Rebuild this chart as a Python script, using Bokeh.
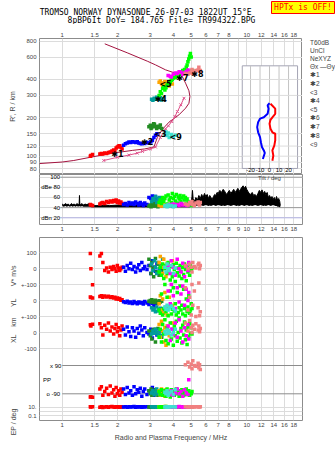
import math
from bokeh.plotting import figure
from bokeh.layouts import column, row
from bokeh.models import Range1d, LinearScale, LogScale, FixedTicker, Label, Legend, LegendItem, LinearAxis
from bokeh.core.properties import value
from bokeh.embed import file_html
from bokeh.resources import INLINE

# ---------------- data ----------------
title_1 = "TROMSO NORWAY   DYNASONDE 26-07-03 1822UT 15\u00b0E"
title_2 = "8pBP6It DoY= 184.765 File= TR994322.BPG"
status_text = "HPTx is OFF!"

freq_ticks_top = [1, 1.5, 2, 3, 4, 5, 6, 7, 8, 10, 12, 14, 16, 18]
freq_ticks_mid = [1, 1.5, 2, 3, 4, 5, 6, 7, 8, 9, 10, 12, 14, 16, 18]
height_ticks = [80, 90, 100, 120, 150, 200, 300, 400, 600, 800]
db_ticks = [20, 40, 60, 80, 100]
db_labels = ["dBn 20", "40", "60", "dBe 80", "100"]
db_grid_colors = ["#b4b4e6", "#9a9a9a", "#dcdcdc", "#dcdcdc", "#9a9a9a"]
tilt_ticks = [-20, -10, 0, 10, 20]
tilt_labels = ["-20", "-10", "0", "10", "20"]

# true-height profile (plasma frequency MHz, height km)
prof_f = [0.753, 1.0, 1.155, 1.42, 1.7, 2.0, 2.4, 2.8, 3.05, 3.14, 3.28, 3.5, 3.79, 4.29, 4.66, 4.86,
          4.92, 4.86, 4.66, 4.47, 4.11, 3.63, 3.2, 2.89, 2.25, 1.70]
prof_h = [87.5, 90, 92.5, 98, 103, 107, 111, 114, 117, 118, 141, 163, 185, 211, 238, 260,
          294, 326, 374, 423, 448, 476, 521, 557, 648, 762]
# NeXYZ trace
nexyz_f = [1.68, 1.99, 2.3, 2.55, 2.72, 3.01, 3.2, 3.4, 3.63, 3.76, 3.92, 4.08, 4.21, 4.39, 4.57]
nexyz_h = [92.5, 98, 102, 105.6, 109, 114, 118, 140, 164, 173, 187, 205, 224, 253, 285]
# tilt inset
thx_tilt = [1, 6, 6, 3, 1, 0, 1, 3, 6, 6, 5, 3, 4, 3]
thx_h = [258, 236, 215, 202, 193, 180, 164, 154, 150, 133, 121, 111, 101, 92]
thy_tilt = [0, -2, -1, -2, -6, -10, -12, -13, -12, -10, -9, -8, -6, -5, -7]
thy_h = [261, 250, 236, 215, 202, 197, 185, 169, 154, 141, 128, 118, 111, 106, 95]

# noise amplitude (dB)
noise_f = [1.00, 1.02, 1.04, 1.06, 1.08, 1.10, 1.12, 1.14, 1.16, 1.18,
           1.20, 1.22, 1.235, 1.24, 1.245, 1.26, 1.28, 1.30, 1.33, 1.36,
           1.40, 1.45, 1.50, 1.60, 1.70, 1.80, 2.00, 2.20, 2.50, 2.80,
           3.00, 3.50, 4.00, 4.50, 4.90, 5.00, 5.05, 5.08, 5.12, 5.20,
           5.30, 5.40, 5.50, 5.60, 5.70, 5.80, 5.90, 6.00, 6.10, 6.20,
           6.30, 6.40, 6.50, 6.60, 6.70, 6.80, 6.90, 7.00, 7.15, 7.30,
           7.45, 7.60, 7.75, 7.90, 8.05, 8.20, 8.35, 8.50, 8.65, 8.80,
           8.95, 9.10, 9.25, 9.40, 9.55, 9.70, 9.85, 10.0, 10.15, 10.3,
           10.5, 10.7, 10.9, 11.1, 11.3, 11.5, 11.7, 11.9, 12.1, 12.3,
           12.5, 12.7, 12.9, 13.1, 13.3, 13.5, 13.7, 13.9, 14.1, 14.3,
           14.5, 14.7, 14.9, 15.1, 15.2]
noise_hi = [47, 45, 48, 46, 47, 44, 48, 46, 47, 45,
            48, 46, 47, 64, 47, 46, 48, 45, 47, 46,
            48, 45, 44, 44, 45, 44, 45, 44, 45, 45,
            46, 45, 45, 46, 46, 50, 62, 74, 58, 52,
            60, 55, 64, 58, 66, 60, 68, 62, 66, 58,
            64, 60, 56, 62, 66, 64, 70, 68, 74, 70,
            76, 72, 66, 70, 74, 68, 72, 76, 70, 74,
            78, 72, 76, 80, 83, 78, 82, 76, 72, 68,
            66, 70, 64, 66, 62, 68, 74, 70, 75, 68,
            72, 66, 70, 60, 64, 58, 62, 56, 60, 54,
            62, 55, 58, 52, 44]
noise_lo = [43, 42, 43, 42, 43, 42, 43, 42, 43, 42,
            43, 42, 43, 42, 43, 42, 43, 42, 42, 42,
            42, 41, 41, 41, 41, 41, 41, 41, 41, 41,
            41, 41, 41, 41, 41, 42, 43, 43, 44, 43,
            44, 43, 44, 45, 44, 43, 44, 45, 44, 43,
            44, 43, 44, 45, 44, 43, 44, 45, 44, 43,
            44, 43, 44, 45, 44, 43, 44, 45, 44, 43,
            44, 43, 44, 45, 44, 43, 44, 45, 44, 43,
            44, 43, 44, 45, 44, 43, 44, 45, 44, 43,
            44, 43, 44, 45, 44, 43, 44, 45, 44, 43,
            43, 42, 42, 41, 41]

# echo groups: frequency, virtual height, amplitude, V*, YL, XL, PP, EP
g1_f = [1.42, 1.43, 1.46, 1.60, 1.63, 1.66, 1.70, 1.74, 1.78, 1.82, 1.86, 1.90, 1.93, 1.96, 1.99, 2.02, 2.05, 2.08, 2.11]
g1_h = [100, 101, 103, 104, 105, 104, 106, 105, 107, 108, 110, 112, 110, 116, 118, 120, 121, 117, 114]
g1_amp = [46, 45, 44, 47, 49, 50, 48, 52, 50, 53, 51, 54, 52, 55, 50, 53, 49, 51, 48]
g1_v = [95, 0, -100, 80, 95, 40, -10, 5, -20, 10, -5, 15, 0, -15, 20, 5, -10, 0, 10]
g1_yl = [22, 18, 15, 25, 30, 20, 28, 22, 26, 18, 24, 15, 20, 10, 16, 8, 12, 2, 5]
g1_xl = [48, 40, 52, 55, 30, -15, 45, 20, 60, 10, 35, -10, 25, 50, 5, 30, -20, 15, 40]
g1_pp = [-110, -108, -112, -60, -45, -100, -75, -55, -95, -40, -85, -65, -105, -50, -90, -70, -100, -60, -80]
g1_ep = [12, 11, 13, 10, 12, 9, 11, 13, 10, 12, 14, 11, 10, 12, 13, 11, 10, 12, 11]

g2_f = [2.15, 2.20, 2.25, 2.30, 2.35, 2.40, 2.45, 2.50, 2.55, 2.60, 2.65, 2.70, 2.75, 2.80, 2.88, 2.95, 3.02, 3.08, 3.14, 3.20, 3.26]
g2_h = [122, 125, 127, 129, 128, 130, 129, 128, 130, 127, 126, 125, 127, 126, 128, 127, 130, 133, 140, 146, 150]
g2_amp = [46, 48, 45, 50, 47, 49, 46, 51, 48, 45, 50, 47, 44, 49, 46, 60, 58, 63, 55, 62, 57]
g2_v = [10, -15, 20, 0, 35, -5, 15, -20, 5, 25, -10, 40, 0, 15, -5, 20, -30, 50, 10, -15, 30]
g2_yl = [-8, -12, -5, -15, -10, -18, -6, -14, -20, -9, -16, -12, -22, -7, -15, -25, -10, -18, -30, -12, -20]
g2_xl = [20, -15, 35, 5, -25, 30, 10, -30, 25, -5, 40, 15, -20, 30, 0, -10, 20, -35, 15, 5, -15]
g2_pp = [-60, -95, -50, -85, -70, -100, -45, -90, -65, -80, -55, -105, -75, -60, -95, -70, -85, -50, -100, -65, -80]
g2_ep = [11, 12, 10, 13, 11, 12, 14, 10, 12, 11, 13, 10, 12, 11, 12, 13, 11, 10, 12, 11, 12]

g3_f = [2.95, 3.00, 3.03, 3.06, 3.10, 3.13, 3.16, 3.20, 3.25, 3.30, 3.35, 3.40, 3.46]
g3_h = [170, 175, 165, 168, 172, 180, 178, 170, 165, 172, 168, 176, 165]
g3_amp = [43, 45, 42, 47, 44, 48, 43, 46, 45, 42, 47, 44, 46]
g3_v = [60, 20, -30, 40, 0, -50, 10, 65, -20, 30, -40, 15, -10]
g3_yl = [-5, 0, -10, 5, -8, -3, -12, 2, -6, -15, -2, -9, -4]
g3_xl = [10, -20, 5, -40, 15, -5, 20, -60, 0, 25, -15, 8, -30]
g3_pp = [-70, -90, -60, -100, -80, -75, -95, -65, -85, -100, -70, -90, -80]
g3_ep = [11, 12, 10, 13, 12, 11, 10, 12, 13, 11, 12, 10, 11]

g4_f = [3.05, 3.10, 3.15, 3.20, 3.25, 3.30, 3.35, 3.40, 3.45, 3.50]
g4_h = [280, 275, 285, 280, 290, 282, 278, 288, 276, 284]
g4_amp = [52, 58, 55, 62, 50, 57, 60, 54, 59, 53]
g4_v = [30, -10, 50, 10, -30, 40, 0, -20, 20, 60]
g4_yl = [-45, -60, -50, -70, -40, -65, -55, -48, -72, -58]
g4_xl = [-10, 10, -5, 20, 0, -15, 15, 5, -20, 8]
g4_pp = [-85, -70, -95, -80, -60, -90, -75, -100, -65, -88]
g4_ep = [12, 11, 13, 12, 10, 11, 12, 13, 11, 12]

g5_f = [3.35, 3.40, 3.45, 3.50, 3.55, 3.60, 3.65, 3.70, 3.80, 3.95]
g5_h = [380, 390, 370, 360, 375, 385, 365, 372, 355, 368]
g5_amp = [44, 45, 43, 46, 44, 45, 43, 44, 46, 45]
g5_v = [40, 77, 10, -30, 60, 20, -50, 35, -10, 50]
g5_yl = [-20, 30, -60, 10, -80, 50, -40, -90, 20, -30]
g5_xl = [50, -30, 70, 10, -60, 30, -80, 40, -20, 60]
g5_pp = [-70, -100, -60, -90, -80, -105, -65, -95, -75, -85]
g5_ep = [12, 10, 13, 11, 12, 14, 11, 10, 12, 13]

g6_f = [3.75, 3.85, 3.90, 4.00, 4.10, 4.20, 4.30, 4.40, 4.50, 4.60, 4.70, 4.80, 4.85]
g6_h = [430, 425, 418, 440, 450, 445, 460, 455, 440, 450, 460, 475, 465]
g6_amp = [45, 46, 44, 47, 45, 46, 44, 48, 45, 46, 44, 45, 46]
g6_v = [20, -30, 50, 10, -40, 60, 0, -20, 35, -50, 15, -10, 40]
g6_yl = [60, -20, 100, 30, -50, 80, -10, 40, 90, -30, 70, 0, 50]
g6_xl = [40, -50, 20, -10, 60, -30, 80, 10, -60, 30, -20, 50, -40]
g6_pp = [-80, -95, -70, -100, -85, -60, -90, -75, -105, -65, -85, -95, 0]
g6_ep = [12, 11, 13, 10, 12, 11, 14, 12, 10, 13, 11, 12, 11]

g7_f = [3.35, 3.40, 3.45, 3.50, 3.55, 3.60, 3.65, 3.70, 3.75, 3.80,
        3.85, 3.90, 3.95, 4.00, 4.05, 4.10, 4.15, 4.20, 4.25, 4.30,
        4.35, 4.40, 4.45, 4.50, 4.55, 4.60, 4.65, 4.70, 4.75, 4.80,
        4.85, 4.90, 4.95, 5.00, 5.05]
g7_h = [300, 320, 310, 340, 350, 330, 345, 360, 370, 385,
        380, 395, 400, 410, 420, 415, 430, 440, 425, 450,
        445, 460, 440, 470, 455, 480, 470, 500, 520, 550,
        580, 610, 640, 600, 470]
g7_amp = [50, 55, 48, 60, 52, 58, 63, 47, 65, 55,
          60, 50, 68, 58, 62, 53, 66, 49, 61, 57,
          64, 52, 59, 46, 63, 55, 60, 48, 57, 52,
          50, 47, 45, 44, 46]
g7_v = [-20, 10, -40, 30, -60, 0, 20, -30, 40, -10,
        -70, 15, -50, 25, -5, -80, 35, -25, 5, -45,
        20, -15, -60, 10, -35, 30, -5, -75, 15, -20,
        0, -40, 25, -10, 5]
g7_yl = [-60, -80, 40, -90, -50, 100, -70, 20, -95, -40,
         60, -85, -55, 80, -65, -20, -90, 50, -75, -45,
         90, -60, -30, -85, 70, -50, -95, 10, -70, -40,
         30, -80, -60, -20, -50]
g7_xl = [-30, 20, -60, 50, -10, 80, -50, 30, -70, 10,
         60, -40, 20, -80, 40, -20, 70, -55, 0, 90,
         -35, 25, -65, 45, -15, 65, -45, 15, -75, 35,
         -25, 55, -5, 30, -10]
g7_pp = [-75, -95, -65, -100, -85, -70, -105, -60, -90, -80,
         -110, -65, -95, -75, -100, -85, -60, -90, -70, -105,
         -80, -95, -65, -85, -100, -75, -90, -60, -95, -80,
         -70, -100, -85, -90, -75]
g7_ep = [11, 12, 10, 13, 11, 12, 14, 10, 12, 11,
         13, 12, 10, 11, 12, 13, 11, 10, 12, 11,
         13, 12, 11, 10, 12, 13, 11, 12, 10, 11,
         12, 13, 11, 12, 10]

g8_f = [4.65, 4.80, 4.90, 5.00, 5.05, 5.10, 5.20, 5.30, 5.45, 5.50, 5.55, 5.60]
g8_h = [445, 440, 450, 455, 480, 445, 460, 470, 475, 500, 465, 470]
g8_amp = [47, 45, 50, 48, 52, 46, 44, 49, 51, 47, 45, 50]
g8_v = [20, 0, 30, 10, -20, 40, 15, 5, 25, 35, 0, 20]
g8_yl = [80, -60, 20, -90, 100, -30, 60, -100, -45, 110, -95, -70]
g8_xl = [60, 10, 75, 30, 0, 45, 20, 55, 15, 40, 5, 25]
g8_pp = [95, 110, 80, 100, 70, 120, 90, 85, 105, 75, 95, 65]
g8_ep = [12, 11, 13, 12, 10, 12, 11, 13, 12, 11, 12, 13]

g9_f = [3.60, 3.65, 3.70, 3.75, 3.80, 3.90, 4.00, 4.10]
g9_h = [150, 155, 145, 152, 140, 148, 142, 146]
g9_amp = [43, 44, 42, 45, 43, 44, 42, 43]
g9_v = [10, -20, 30, 0, -10, 20, -30, 5]
g9_yl = [-40, -55, -30, -60, -45, -35, -50, -65]
g9_xl = [5, -10, 15, -5, 10, -15, 0, 20]
g9_pp = [-80, -90, -70, -100, -85, -75, -95, -65]
g9_ep = [11, 12, 10, 12, 11, 13, 12, 11]

group_names = ["\u27311", "\u27312", "<3", "\u27314", "<5", "\u27316", "\u27317", "\u27318", "<9"]
group_colors = ["#ff0000", "#0000ff", "#228b22", "#009c9c", "#ffa500", "#ff00ff", "#00ff00", "#f08080", "#40e0d0"]

# trace identification marks
mark_text = ["\u27311", "\u27312", "<3", "\u27314", "<5", "\u27317", "\u27318", "<9"]
mark_f = [1.99, 2.89, 3.41, 3.42, 3.63, 4.48, 5.40, 4.12]
mark_h = [104, 127, 148, 277, 363, 409, 435, 141]

# bottom panel axis rows
row_ticks = [100, 0, -100, -200, -300, -400, -500, -865, -917]
row_labels = ["100", "0", "+-100", "0", "+-100", "0", "-100", "10.", "0.1"]
pp_lines = [90, -90]
row_titles = ["V* m/s", "YL", "km", "XL", "EP / deg"]
row_title_pos = [20, -186, -304, -411, -873]

groups = []
for i in range(9):
    d = globals()
    k = "g%d_" % (i + 1)
    groups.append(dict(name=group_names[i], color=group_colors[i], f=d[k + "f"], h=d[k + "h"],
                       amp=d[k + "amp"], v=d[k + "v"], yl=d[k + "yl"], xl=d[k + "xl"],
                       pp=d[k + "pp"], ep=d[k + "ep"]))
draw_order = [0, 1, 2, 3, 4, 6, 5, 7, 8]

# ---------------- styling ----------------
FONT = "Liberation Sans"
MONO = "DejaVu Sans Mono"
GRID = "#dcdcdc"
FRAME = "#8c8c8c"
PROF = "#a3133f"
PINK = "#e0508a"
W = 335
XR = Range1d(0.753, 20.05)


def style_axis(ax, size="6px"):
    ax.axis_line_color = None
    ax.major_tick_line_color = None
    ax.minor_tick_line_color = None
    ax.major_tick_out = 0
    ax.major_tick_in = 0
    ax.minor_tick_out = 0
    ax.major_label_text_font = FONT
    ax.major_label_text_font_size = size
    ax.major_label_standoff = 3


def style(p):
    p.outline_line_color = FRAME
    p.background_fill_color = "white"
    p.border_fill_color = "white"
    for ax in p.axis:
        style_axis(ax)
    for g in p.grid:
        g.grid_line_color = GRID


def plain(fw, fh, xr, yr, top=0):
    p = figure(frame_width=fw, frame_height=fh, x_range=xr, y_range=yr,
               x_axis_location=None, y_axis_location=None, output_backend="svg", toolbar_location=None,
               min_border_left=0, min_border_right=0, min_border_top=top, min_border_bottom=0)
    p.outline_line_color = None
    p.grid.visible = False
    return p


# ---------------- header (pixel coordinates, y up) ----------------
pH = figure(width=W, height=24, x_range=Range1d(0, 335), y_range=Range1d(0, 24),
            x_axis_location=None, y_axis_location=None, output_backend="svg", toolbar_location=None,
            min_border_left=0, min_border_right=0, min_border_top=0, min_border_bottom=0)
pH.outline_line_color = None
pH.grid.visible = False
try:
    pH.frame_align = False
except Exception:
    pass
pH.quad(left=[271], right=[334], bottom=[11], top=[23], fill_color="#ffff00", line_color="#ff0000", line_width=1)
pH.text(x=[150, 161, 302.5], y=[12, 4, 17], text=[title_1, title_2, status_text],
        text_font=value(MONO), text_font_size="8px", text_align="center", text_baseline="middle",
        text_color=["black", "black", "#ff0000"])

# ---------------- panel A: heights ----------------
pA = figure(width=302, height=150, x_axis_type="log", y_axis_type="log",
            x_range=XR, y_range=Range1d(71.8, 839), x_axis_location="above",
            output_backend="svg", toolbar_location=None,
            min_border_left=39, min_border_right=0, min_border_top=14, min_border_bottom=0)
pA.extra_x_ranges = {"tilt": Range1d(-242.1, 34.7)}
pA.extra_x_scales = {"tilt": LinearScale()}
style(pA)
pA.xaxis.ticker = FixedTicker(ticks=freq_ticks_top)
pA.xaxis.major_label_overrides = {t: str(t) for t in freq_ticks_top}
pA.xaxis.major_label_standoff = 2
pA.yaxis.ticker = FixedTicker(ticks=height_ticks)
pA.yaxis.major_label_overrides = {t: str(t) for t in height_ticks}
pA.yaxis.axis_label = "R', R / km"
pA.yaxis.axis_label_text_font = FONT
pA.yaxis.axis_label_text_font_size = "7px"
pA.yaxis.axis_label_text_font_style = "normal"
pA.yaxis.axis_label_standoff = 7
pA.xgrid.ticker = FixedTicker(ticks=freq_ticks_mid)
pA.ygrid.ticker = FixedTicker(ticks=height_ticks)

# inset frame (tilt)
inset_l, inset_r, inset_b, inset_t = -28.7, 29.5, 80.1, 512
inset_rows = [90, 100, 120, 150, 200, 300, 400]
pA.quad(left=[inset_l], right=[inset_r], bottom=[inset_b], top=[inset_t], x_range_name="tilt",
        fill_color="white", line_color="#a4a4b4", line_width=1)
pA.segment(x0=tilt_ticks, x1=tilt_ticks, y0=[inset_b] * 5, y1=[inset_t] * 5, x_range_name="tilt",
           line_color="#c4c4c4", line_width=1)
pA.segment(x0=[inset_l] * 7, x1=[inset_r] * 7, y0=inset_rows, y1=inset_rows, x_range_name="tilt",
           line_color=GRID, line_width=1)
pA.line(thx_tilt, thx_h, x_range_name="tilt", line_color="#ff0000", line_width=2)
pA.line(thy_tilt, thy_h, x_range_name="tilt", line_color="#0000ff", line_width=2)
pA.text(x=tilt_ticks, y=[78.5] * 5, text=tilt_labels, x_range_name="tilt",
        text_font=value(FONT), text_font_size="6px", text_align="center", text_baseline="middle")

# profile and NeXYZ
pA.line(prof_f, prof_h, line_color=PROF, line_width=1)
pA.line(nexyz_f, nexyz_h, line_color=PINK, line_width=1)
pA.scatter(nexyz_f, nexyz_h, marker="x", size=4, line_color=PINK, line_width=1)

for i in draw_order:
    g = groups[i]
    pA.scatter(g["f"], g["h"], marker="square", size=3.5, fill_color=g["color"], line_color=None)

pA.text(x=mark_f, y=mark_h, text=mark_text, text_font=value("DejaVu Sans"), text_font_size="8px",
        text_font_style="bold", text_align="center", text_baseline="middle", text_color="black")

# ---------------- legend strip (right of panel A) ----------------
pK = plain(33, 136, Range1d(0, 1), Range1d(0, 1), top=14)
k_t60 = pK.line(x=[], y=[], line_color="#aaaaaa", line_width=1)
k_uncl = pK.scatter(x=[], y=[], marker="circle", size=2, color="black")
k_nx_l = pK.line(x=[], y=[], line_color=PINK, line_width=1)
k_nx_m = pK.scatter(x=[], y=[], marker="cross", size=5, line_color=PINK, line_width=1)
k_th = pK.line(x=[], y=[], line_color="#e03060", line_width=1)
items = [LegendItem(label="T60dB", renderers=[k_t60]),
         LegendItem(label="UnCl", renderers=[k_uncl]),
         LegendItem(label="NeXYZ", renderers=[k_nx_l, k_nx_m]),
         LegendItem(label="\u0398x \u2014\u0398y", renderers=[k_th])]
for i in range(9):
    r = pK.scatter(x=[], y=[], marker="square", size=3.5, fill_color=groups[i]["color"], line_color=None)
    items.append(LegendItem(label=groups[i]["name"], renderers=[r]))
legend = Legend(items=items, location="top_left", orientation="vertical",
                label_text_font=FONT, label_text_font_size="6.5px", label_height=7,
                glyph_height=7, glyph_width=5, spacing=1, padding=0, margin=1,
                label_standoff=2, border_line_color=None, background_fill_alpha=0)
pK.add_layout(legend)

# ---------------- panel B: amplitudes ----------------
pB = figure(width=W, height=62, x_axis_type="log", x_range=XR, y_range=Range1d(6.8, 105.3),
            y_axis_location=None, output_backend="svg", toolbar_location=None,
            min_border_left=39, min_border_right=33, min_border_top=0, min_border_bottom=12)
style(pB)
pB.xaxis.ticker = FixedTicker(ticks=freq_ticks_mid)
pB.xaxis.major_label_overrides = {t: str(t) for t in freq_ticks_mid}
pB.xaxis.major_label_standoff = 2
pB.xgrid.ticker = FixedTicker(ticks=freq_ticks_mid)
pB.segment(x0=[0.98] * 5, x1=[20.05] * 5, y0=db_ticks, y1=db_ticks, line_color=db_grid_colors, line_width=1)
pB.varea(x=noise_f, y1=noise_lo, y2=noise_hi, fill_color="black")
pB.line(noise_f, noise_hi, line_color="black", line_width=1)
for i in draw_order:
    g = groups[i]
    pB.scatter(g["f"], g["amp"], marker="square", size=3.5, fill_color=g["color"], line_color=None)
pB.text(x=[0.975] * 5, y=db_ticks, text=db_labels, text_font=value(FONT), text_font_size="6px",
        text_align="right", text_baseline="middle")
pB.add_layout(Label(x=230, y=46.5, x_units="screen", y_units="screen", text="Tilt / deg",
                    text_font=FONT, text_font_size="6px", text_align="center", text_baseline="middle"))

# ---------------- panel C: echo parameters ----------------
pC = figure(width=W, height=215, x_axis_type="log", x_range=XR, y_range=Range1d(-948.1, 195.6),
            output_backend="svg", toolbar_location=None,
            min_border_left=39, min_border_right=33, min_border_top=1, min_border_bottom=31)
pC.extra_y_ranges = {"yl": Range1d(-750, 393.75), "xl": Range1d(-550, 593.75),
                     "pp": Range1d(-259.8, 904.1), "ep": Range1d(10 ** -2.205, 10 ** 41.89)}
pC.extra_y_scales = {"ep": LogScale()}
style(pC)
pC.xaxis.ticker = FixedTicker(ticks=freq_ticks_top)
pC.xaxis.major_label_overrides = {t: str(t) for t in freq_ticks_top}
pC.xaxis.major_label_standoff = 2
pC.xaxis.axis_label = "Radio and Plasma Frequency / MHz"
pC.xaxis.axis_label_text_font = FONT
pC.xaxis.axis_label_text_font_size = "7px"
pC.xaxis.axis_label_text_font_style = "normal"
pC.xaxis.axis_label_standoff = 4
pC.yaxis.ticker = FixedTicker(ticks=row_ticks)
pC.yaxis.major_label_overrides = dict(zip(row_ticks, row_labels))
pC.yaxis.major_label_standoff = 3
pC.xgrid.ticker = FixedTicker(ticks=freq_ticks_mid)
pC.ygrid.ticker = FixedTicker(ticks=row_ticks + [-891])

title_axis = LinearAxis(ticker=FixedTicker(ticks=row_title_pos),
                        major_label_overrides=dict(zip(row_title_pos, row_titles)),
                        major_label_orientation=math.pi / 2)
style_axis(title_axis, "7px")
title_axis.major_label_standoff = 4
pC.add_layout(title_axis, "left")

pC.segment(x0=[1.0, 1.0], x1=[20.05, 20.05], y0=pp_lines, y1=pp_lines, y_range_name="pp",
           line_color="#8c8c8c", line_width=1)
pC.text(x=[0.99, 0.975], y=pp_lines, text=["x 90", "o -90"], y_range_name="pp",
        text_font=value(FONT), text_font_size="6px", text_align="right", text_baseline="middle")
pC.text(x=[0.827], y=[0], text=["PP"], y_range_name="pp",
        text_font=value(FONT), text_font_size="6px", text_align="center", text_baseline="middle")

for i in draw_order:
    g = groups[i]
    c = g["color"]
    pC.scatter(g["f"], g["v"], marker="square", size=3.5, fill_color=c, line_color=None)
    pC.scatter(g["f"], g["yl"], marker="square", size=3.5, fill_color=c, line_color=None, y_range_name="yl")
    pC.scatter(g["f"], g["xl"], marker="square", size=3.5, fill_color=c, line_color=None, y_range_name="xl")
    pC.scatter(g["f"], g["pp"], marker="square", size=3.5, fill_color=c, line_color=None, y_range_name="pp")
    pC.scatter(g["f"], g["ep"], marker="square", size=3.5, fill_color=c, line_color=None, y_range_name="ep")

layout = column(pH, row(pA, pK), pB, pC)
open("out.html", "w").write(file_html(layout, INLINE))
